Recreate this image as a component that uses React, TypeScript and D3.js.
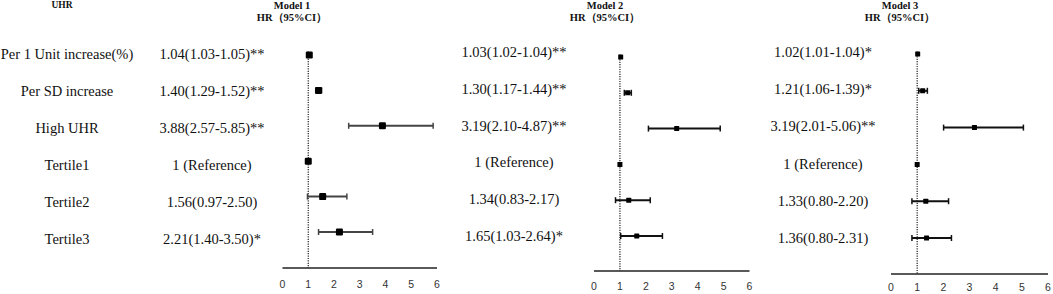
import React from "react";
import * as d3 from "d3";

const categories = ["Per 1 Unit increase(%)", "Per SD increase", "High UHR", "Tertile1", "Tertile2", "Tertile3"];
const ticks = [0, 1, 2, 3, 4, 5, 6];

const m1HR = [1.04, 1.40, 3.88, 1, 1.56, 2.21];
const m1Lo = [1.03, 1.29, 2.57, 1, 0.97, 1.40];
const m1Hi = [1.05, 1.52, 5.85, 1, 2.50, 3.50];
const m1Sig = ["**", "**", "**", "", "", "*"];

const m2HR = [1.03, 1.30, 3.19, 1, 1.34, 1.65];
const m2Lo = [1.02, 1.17, 2.10, 1, 0.83, 1.03];
const m2Hi = [1.04, 1.44, 4.87, 1, 2.17, 2.64];
const m2Sig = ["**", "**", "**", "", "", "*"];

const m3HR = [1.02, 1.21, 3.19, 1, 1.33, 1.36];
const m3Lo = [1.01, 1.06, 2.01, 1, 0.80, 0.80];
const m3Hi = [1.04, 1.39, 5.06, 1, 2.20, 2.31];
const m3Sig = ["*", "*", "**", "", "", ""];

const models = [
  { name: "Model 1", hr: m1HR, lo: m1Lo, hi: m1Hi, sig: m1Sig },
  { name: "Model 2", hr: m2HR, lo: m2Lo, hi: m2Hi, sig: m2Sig },
  { name: "Model 3", hr: m3HR, lo: m3Lo, hi: m3Hi, sig: m3Sig },
];

// layout (positions only)
const layouts = [
  { x0: 282.5, x1: 437, axisY: 268, tickY: 283.5, mk: [55, 232], txt: [54, 239], tc: 212, hc: 292, size: 7, color: "#444", rx: 1.2 },
  { x0: 594, x1: 749.5, axisY: 271, tickY: 285.5, mk: [57, 236], txt: [52, 236], tc: 514, hc: 605, size: 5, color: "#111", rx: 0.5 },
  { x0: 891, x1: 1048, axisY: 274, tickY: 286.5, mk: [54, 238], txt: [52, 238], tc: 823, hc: 900, size: 5, color: "#111", rx: 0.5 },
];

const serif = "'Liberation Serif', 'Times New Roman', serif";
const sans = "'Liberation Sans', Arial, sans-serif";

function fmt(v: number) {
  return v.toFixed(2);
}

function label(m: typeof models[0], i: number) {
  if (categories[i] === "Tertile1") return "1 (Reference)";
  return `${fmt(m.hr[i])}(${fmt(m.lo[i])}-${fmt(m.hi[i])})${m.sig[i]}`;
}

const labelY = d3.scalePoint<string>().domain(categories).range([54, 239]);

export default function App() {
  return (
    <svg width={1053} height={294} style={{ position: "absolute", left: 0, top: 0, background: "#fff" }}>
      <rect width={1053} height={294} fill="#fff" />
      <text x={62} y={5} fontFamily={serif} fontWeight="bold" fontSize={9.5} textAnchor="middle" dominantBaseline="central" fill="#111">UHR</text>
      {categories.map((c) => (
        <text key={c} x={67} y={labelY(c)} fontFamily={serif} fontSize={14.5} textAnchor="middle" dominantBaseline="central" fill="#111">{c}</text>
      ))}
      {models.map((m, k) => {
        const L = layouts[k];
        const x = d3.scaleLinear().domain([0, 6]).range([L.x0, L.x1]);
        const yM = d3.scalePoint<string>().domain(categories).range(L.mk as [number, number]);
        const yT = d3.scalePoint<string>().domain(categories).range(L.txt as [number, number]);
        const s = L.size;
        return (
          <g key={m.name}>
            <text x={L.hc} y={5} fontFamily={serif} fontWeight="bold" fontSize={10.5} textAnchor="middle" dominantBaseline="central" fill="#111">{m.name}</text>
            <text x={L.hc} y={17} fontFamily={serif} fontWeight="bold" fontSize={10.5} textAnchor="middle" dominantBaseline="central" fill="#111">HR（95%CI）</text>
            {categories.map((c, i) => (
              <text key={c} x={L.tc} y={yT(c)} fontFamily={serif} fontSize={14.5} textAnchor="middle" dominantBaseline="central" fill="#111">{label(m, i)}</text>
            ))}
            <line x1={x(1)} x2={x(1)} y1={(yM(categories[0]) as number) - s / 2} y2={L.axisY} stroke="#222" strokeWidth={1.2} strokeDasharray="1.2,1.2" />
            <line x1={x(0)} x2={x(6)} y1={L.axisY} y2={L.axisY} stroke="#222" strokeWidth={1.6} />
            {ticks.map((t) => (
              <text key={t} x={x(t)} y={L.tickY} fontFamily={sans} fontSize={10.5} textAnchor="middle" dominantBaseline="central" fill="#333">{t}</text>
            ))}
            {categories.map((c, i) => {
              const y = yM(c) as number;
              const hasCI = m.hi[i] - m.lo[i] > 0.05;
              return (
                <g key={c}>
                  {hasCI && (
                    <g stroke={L.color} strokeWidth={2}>
                      <line x1={x(m.lo[i])} x2={x(m.hi[i])} y1={y} y2={y} />
                      <line x1={x(m.lo[i])} x2={x(m.lo[i])} y1={y - 3} y2={y + 3} strokeWidth={1.5} />
                      <line x1={x(m.hi[i])} x2={x(m.hi[i])} y1={y - 3} y2={y + 3} strokeWidth={1.5} />
                    </g>
                  )}
                  <rect x={x(m.hr[i]) - s / 2} y={y - s / 2} width={s} height={s} rx={L.rx} fill="#000" />
                </g>
              );
            })}
          </g>
        );
      })}
    </svg>
  );
}
